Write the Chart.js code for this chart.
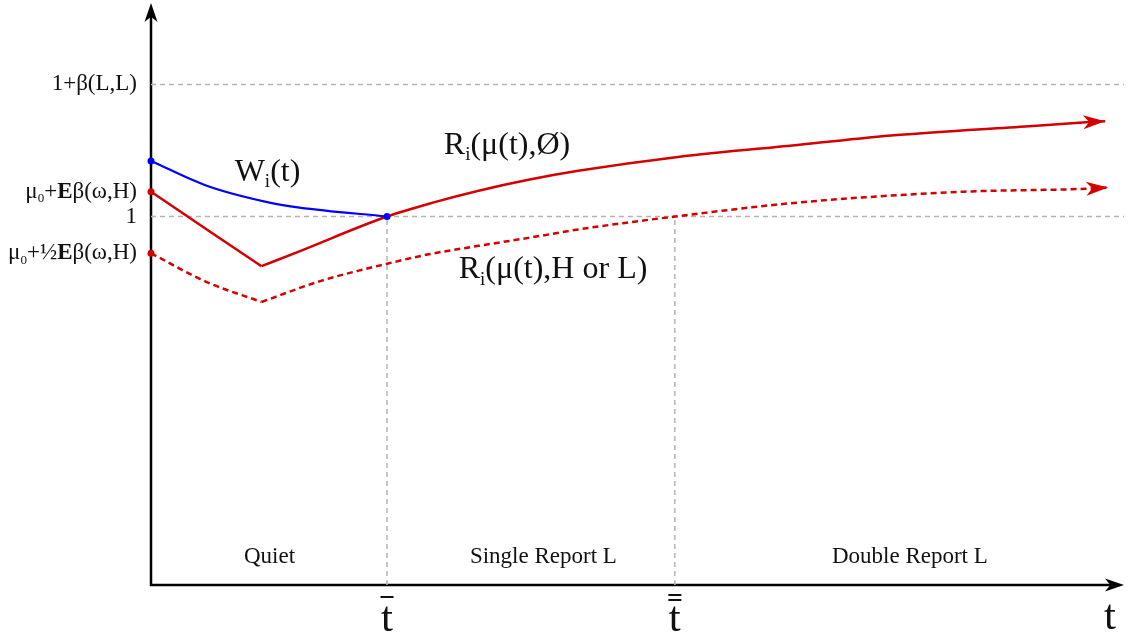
<!DOCTYPE html>
<html lang="en">
<head>
<meta charset="UTF-8">
<title>Reports and reservation values</title>
<script src="https://cdn.jsdelivr.net/npm/chart.js"></script>
<style>
  body { margin: 0; background: #fff; }
  #chart { display: block; }
</style>
</head>
<body>
<canvas id="chart" width="1128" height="636"></canvas>
<script>
// time runs from 0; the quiet phase ends at tBar, the single report phase at tBarBar
const tBar = 237;
const tBarBar = 526;
const tMax = 977;
const yMax = 585;

const levelOne = 371;
const levelBetaLL = 504;

// W_i(t)
const wX = [0, 56, 119, 149, 237];
const wY = [427, 402, 385, 380, 371];

// R_i(mu(t), Ø) - falls during the quiet phase, then rises
const rDownX = [0, 56, 111];
const rDownY = [396, 358, 321];
const rUpX = [111, 149, 237, 283, 329, 379, 429, 529, 649, 749, 882, 939, 958];
const rUpY = [321, 336, 371, 385, 397, 408, 417, 431, 443, 453, 462, 466, 467];

// R_i(mu(t), H or L)
const hDownX = [0, 56, 111];
const hDownY = [334, 305, 285];
const hUpX = [111, 170, 237, 279, 329, 379, 429, 479, 526, 649, 816, 939, 961];
const hUpY = [285, 306, 323.5, 333, 341.5, 349.5, 358, 365, 371, 385, 396, 399, 400.3];

// y tick labels (pieces: normal / sub / bold)
const yTickValues = [levelBetaLL, 396, levelOne, 334];
const yTickLabels = [
  [['1+β(L,L)', 'n']],
  [['μ', 'n'], ['0', 'sub'], ['+', 'n'], ['E', 'bold'], ['β(ω,H)', 'n']],
  [['1', 'n']],
  [['μ', 'n'], ['0', 'sub'], ['+½', 'n'], ['E', 'bold'], ['β(ω,H)', 'n']]
];

const regionNames = ['Quiet', 'Single Report L', 'Double Report L'];
const regionCenters = [119, 394, 762];

const curveLabels = [
  { parts: [['W', 'n'], ['i', 'sub'], ['(t)', 'n']], x: 84, y: 415 },
  { parts: [['R', 'n'], ['i', 'sub'], ['(μ(t),Ø)', 'n']], x: 294, y: 442 },
  { parts: [['R', 'n'], ['i', 'sub'], ['(μ(t),H or L)', 'n']], x: 309, y: 317 }
];

const RED = '#d40000';
const BLUE = '#0000ff';
const GREY = '#b4b4b4';
const SERIF = '"Liberation Serif", "DejaVu Serif", serif';

function pts(xs, ys) {
  return xs.map((x, i) => ({ x: x, y: ys[i] }));
}

function fontFor(style, size) {
  if (style === 'bold') return 'bold ' + size + 'px ' + SERIF;
  if (style === 'sub') return Math.round(size * 0.58) + 'px ' + SERIF;
  return size + 'px ' + SERIF;
}

function drawRich(ctx, parts, x, base, size, align) {
  let w = 0;
  parts.forEach(p => { ctx.font = fontFor(p[1], size); w += ctx.measureText(p[0]).width; });
  let cx = align === 'right' ? x - w : (align === 'center' ? x - w / 2 : x);
  ctx.textAlign = 'left';
  ctx.textBaseline = 'alphabetic';
  parts.forEach(p => {
    ctx.font = fontFor(p[1], size);
    const dy = p[1] === 'sub' ? size * 0.2 : 0;
    ctx.fillText(p[0], cx, base + dy);
    cx += ctx.measureText(p[0]).width;
  });
}

function arrowHead(ctx, tipX, tipY, angle, len, half, color) {
  ctx.save();
  ctx.translate(tipX, tipY);
  ctx.rotate(angle);
  ctx.fillStyle = color;
  ctx.beginPath();
  ctx.moveTo(0, 0);
  ctx.lineTo(-len, -half);
  ctx.lineTo(-len * 0.72, 0);
  ctx.lineTo(-len, half);
  ctx.closePath();
  ctx.fill();
  ctx.restore();
}

const decorations = {
  id: 'decorations',
  beforeDatasetsDraw(chart) {
    // axes go under the curves so the start dots sit on top
    const ctx = chart.ctx;
    const x0 = chart.scales.x.getPixelForValue(0);
    const y0 = chart.scales.y.getPixelForValue(0);
    ctx.save();
    ctx.strokeStyle = '#000';
    ctx.lineWidth = 2.5;
    ctx.beginPath();
    ctx.moveTo(x0, y0 + 1);
    ctx.lineTo(x0, 14);
    ctx.moveTo(x0 - 1, y0);
    ctx.lineTo(1112, y0);
    ctx.stroke();
    arrowHead(ctx, x0, 3, -Math.PI / 2, 19, 6.5, '#000');
    arrowHead(ctx, 1124, y0, 0, 19, 6.5, '#000');
    ctx.restore();
  },
  afterDatasetsDraw(chart) {
    const ctx = chart.ctx;
    const xs = chart.scales.x;
    const ys = chart.scales.y;

    ctx.save();
    // arrows at the end of the two R curves
    [3, 4].forEach(i => {
      const meta = chart.getDatasetMeta(i);
      const n = meta.data.length;
      const a = meta.data[n - 2], b = meta.data[n - 1];
      arrowHead(ctx, b.x, b.y, Math.atan2(b.y - a.y, b.x - a.x), 22, 7, RED);
    });

    // y tick labels
    ctx.fillStyle = '#111';
    yTickValues.forEach((v, i) => {
      drawRich(ctx, yTickLabels[i], 137, ys.getPixelForValue(v) + 6, 23, 'right');
    });

    // region names
    regionNames.forEach((name, i) => {
      drawRich(ctx, [[name, 'n']], xs.getPixelForValue(regionCenters[i]), ys.getPixelForValue(29) + 7, 23, 'center');
    });

    // curve labels
    curveLabels.forEach(l => {
      drawRich(ctx, l.parts, xs.getPixelForValue(l.x), ys.getPixelForValue(l.y) + 8, 32, 'left');
    });

    // time labels
    const tb = xs.getPixelForValue(tBar);
    const tbb = xs.getPixelForValue(tBarBar);
    drawRich(ctx, [['t', 'n']], tb, 631, 43, 'center');
    drawRich(ctx, [['t', 'n']], tbb, 631, 43, 'center');
    drawRich(ctx, [['t', 'n']], 1110, 629, 43, 'center');
    ctx.strokeStyle = '#111';
    ctx.lineWidth = 2;
    ctx.beginPath();
    ctx.moveTo(tb - 6.5, 597); ctx.lineTo(tb + 6.5, 597);
    ctx.moveTo(tbb - 6.5, 595); ctx.lineTo(tbb + 6.5, 595);
    ctx.moveTo(tbb - 6.5, 600); ctx.lineTo(tbb + 6.5, 600);
    ctx.stroke();
    ctx.restore();
  }
};

const curve = (data, color, width, dash, radius) => ({
  data: data,
  borderColor: color,
  backgroundColor: color,
  borderWidth: width,
  borderDash: dash,
  pointRadius: radius,
  pointBorderWidth: 0,
  cubicInterpolationMode: 'monotone',
  fill: false,
  clip: false
});

const guide = (data) => ({
  data: data,
  borderColor: GREY,
  borderWidth: 1.5,
  borderDash: [5, 4],
  pointRadius: 0,
  tension: 0,
  fill: false,
  clip: false
});

new Chart(document.getElementById('chart'), {
  type: 'line',
  data: {
    datasets: [
      curve(pts(wX, wY), BLUE, 2.2, [], [3.5, 0, 0, 0, 3.5]),
      curve(pts(rDownX, rDownY), RED, 2.5, [], [3.5, 0, 0]),
      curve(pts(hDownX, hDownY), RED, 2.5, [6, 4], [3.5, 0, 0]),
      curve(pts(rUpX, rUpY), RED, 2.5, [], 0),
      curve(pts(hUpX, hUpY), RED, 2.5, [6, 4], 0),
      guide([{ x: 0, y: levelOne }, { x: tMax, y: levelOne }]),
      guide([{ x: 0, y: levelBetaLL }, { x: tMax, y: levelBetaLL }]),
      guide([{ x: tBar, y: 0 }, { x: tBar, y: levelOne }]),
      guide([{ x: tBarBar, y: 0 }, { x: tBarBar, y: levelOne }])
    ]
  },
  options: {
    responsive: false,
    animation: false,
    layout: { padding: { left: 151, right: 0, top: 0, bottom: 51 } },
    plugins: { legend: { display: false }, tooltip: { enabled: false } },
    scales: {
      x: { type: 'linear', min: 0, max: tMax, display: false },
      y: { type: 'linear', min: 0, max: yMax, display: false }
    }
  },
  plugins: [decorations]
});
</script>
</body>
</html>
